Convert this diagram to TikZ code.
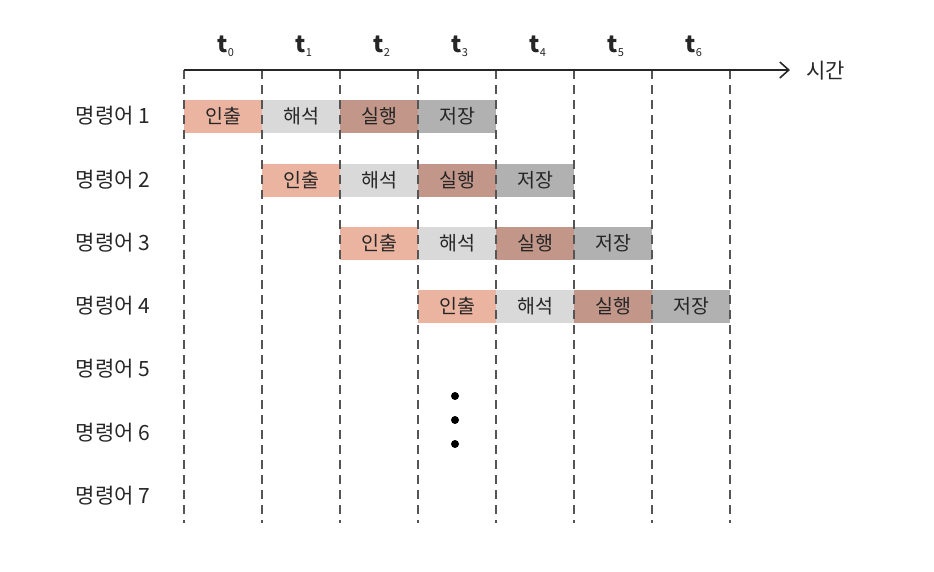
\documentclass[tikz,border=0pt]{standalone}
\usepackage{fontspec}
\setmainfont{Noto Sans CJK KR}
\usetikzlibrary{arrows.meta}
\definecolor{cfetch}{HTML}{EBB4A0}
\definecolor{cdecode}{HTML}{D9D9D9}
\definecolor{cexec}{HTML}{C29689}
\definecolor{cstore}{HTML}{B1B1B1}
\definecolor{cline}{HTML}{555555}
\tikzset{
  stage/.style={minimum width=78pt, minimum height=33pt, inner sep=0pt, font=\fontsize{19.5}{20}\selectfont, text=black!85},
  fetchbox/.style={stage, fill=cfetch},
  decodebox/.style={stage, fill=cdecode},
  execbox/.style={stage, fill=cexec},
  storebox/.style={stage, fill=cstore},
  rowlabel/.style={font=\fontsize{21}{21}\selectfont, text=black!85},
  tlabel/.style={font=\fontsize{23}{23}\selectfont\bfseries, text=black!85},
  colline/.style={cline, line width=1.4pt, dash pattern=on 9pt off 6pt},
  dotmark/.style={circle, fill=black, inner sep=0pt, minimum size=8pt}
}
\begin{document}
\begin{tikzpicture}[x=1pt,y=-1pt]
\useasboundingbox (0,0) rectangle (934,571);
% rows
\foreach \r/\y in {1/116,2/180,3/243,4/306,5/369,6/433,7/496}{
  \node[rowlabel] (row\r) at (113,\y) {명령어 \r};
}
% boxes
\foreach \r/\y in {1/116,2/180,3/243,4/306}{
  \pgfmathsetmacro{\xa}{184+78*(\r-1)+39}
  \pgfmathsetmacro{\xb}{\xa+78}
  \pgfmathsetmacro{\xc}{\xa+156}
  \pgfmathsetmacro{\xd}{\xa+234}
  \node[fetchbox] (f\r) at (\xa,\y) {인출};
  \node[decodebox] (d\r) at (\xb,\y) {해석};
  \node[execbox] (e\r) at (\xc,\y) {실행};
  \node[storebox] (s\r) at (\xd,\y) {저장};
}
% column lines
\foreach \i in {0,...,7}{
  \coordinate (top\i) at (184+78*\i,70);
  \coordinate (bot\i) at (184+78*\i,523);
  \draw[colline] (top\i) -- (bot\i);
}
% axis
\coordinate (axend) at (790,70);
\draw[black!85, line width=1.8pt, -{Straight Barb[length=9pt,width=16pt,line width=1.6pt]}] (top0) -- (axend);
\node[rowlabel, anchor=west] (time) at (803,71) {시간};
% t labels
\foreach \i in {0,...,6}{
  \node[tlabel] (t\i) at (226+78*\i,46) {t\textsubscript{\fontsize{11}{11}\selectfont\mdseries\i}};
}
% dots
\node[dotmark] (dot1) at (455,396) {};
\node[dotmark] (dot2) at (455,420) {};
\node[dotmark] (dot3) at (455,444) {};
\end{tikzpicture}
\end{document}
